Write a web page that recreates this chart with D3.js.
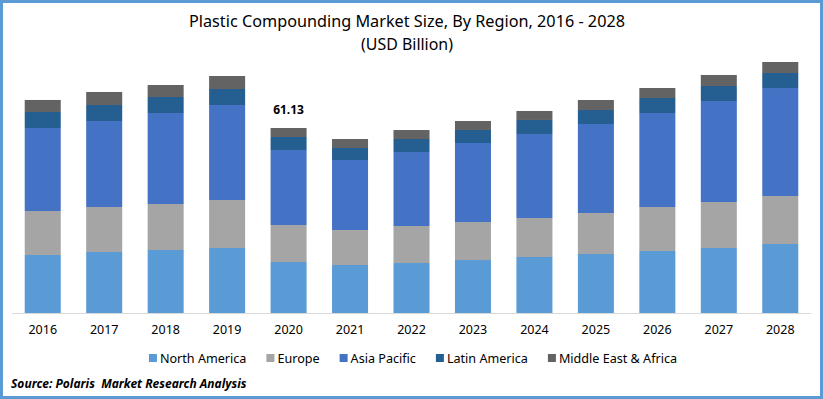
<!DOCTYPE html>
<html>
<head>
<meta charset="utf-8">
<script src="https://cdn.jsdelivr.net/npm/d3@7"></script>
<style>
  html, body { margin: 0; padding: 0; background: #fff; }
  svg { display: block; font-family: "Noto Sans", "Open Sans", sans-serif; }
</style>
</head>
<body>
<svg width="823" height="399"></svg>
<script>
// Chart data (USD Billion)
const years = ["2016", "2017", "2018", "2019", "2020", "2021", "2022", "2023", "2024", "2025", "2026", "2027", "2028"];
const regions = ["North America", "Europe", "Asia Pacific", "Latin America", "Middle East & Africa"];
const northAmerica = [19.17, 20.16, 20.82, 21.48, 16.85, 15.86, 16.52, 17.51, 18.51, 19.50, 20.49, 21.48, 22.80];
const europe       = [14.54, 14.87, 15.20, 15.86, 12.22, 11.57, 12.23, 12.56, 12.89, 13.55, 14.54, 15.20, 15.86];
const asiaPacific  = [27.43, 28.42, 30.07, 31.39, 24.79, 23.13, 24.45, 26.11, 27.76, 29.41, 31.06, 33.38, 35.69];
const latinAmerica = [5.29, 5.29, 5.29, 5.29, 4.30, 3.97, 4.30, 4.30, 4.63, 4.63, 4.96, 4.96, 4.96];
const middleEast   = [3.97, 4.30, 3.97, 4.30, 2.97, 2.97, 2.97, 2.97, 2.97, 3.30, 3.30, 3.64, 3.64];
const labelYear = "2020";
const labelText = "61.13";

const colors = ["#5B9BD5", "#A5A5A5", "#4472C4", "#255E91", "#636363"];

const rows = years.map((y, i) => ({
  year: y,
  "North America": northAmerica[i],
  "Europe": europe[i],
  "Asia Pacific": asiaPacific[i],
  "Latin America": latinAmerica[i],
  "Middle East & Africa": middleEast[i]
}));

const svg = d3.select("svg");
const width = 823, height = 399;

// Outer frame
svg.append("rect")
  .attr("x", 1.5).attr("y", 1.5)
  .attr("width", width - 3).attr("height", height - 3)
  .attr("fill", "#fff")
  .attr("stroke", "#5B9BD5")
  .attr("stroke-width", 3);

// Title
const title = svg.append("text")
  .attr("x", 407).attr("y", 27)
  .attr("text-anchor", "middle")
  .attr("font-size", 17)
  .attr("fill", "#000")
  .text("Plastic Compounding Market Size, By Region, 2016 - 2028");
fitText(title, 436);

const subtitle = svg.append("text")
  .attr("x", 407).attr("y", 50)
  .attr("text-anchor", "middle")
  .attr("font-size", 17)
  .attr("fill", "#000")
  .text("(USD Billion)");
fitText(subtitle, 92);

// Scales
const x = d3.scaleBand()
  .domain(years)
  .range([12, 811])
  .paddingInner(0.414)
  .paddingOuter(0.207);

const y = d3.scaleLinear()
  .domain([0, 80])
  .range([313, 313 - 80 * 3.026]);

const stack = d3.stack().keys(regions);
const series = stack(rows);

// Bars
svg.append("g")
  .selectAll("g")
  .data(series)
  .join("g")
    .attr("fill", (d, i) => colors[i])
  .selectAll("rect")
  .data(d => d)
  .join("rect")
    .attr("x", d => x(d.data.year))
    .attr("y", d => y(d[1]))
    .attr("width", x.bandwidth())
    .attr("height", d => y(d[0]) - y(d[1]));

// Baseline
svg.append("line")
  .attr("x1", 12).attr("x2", 811)
  .attr("y1", 313.5).attr("y2", 313.5)
  .attr("stroke", "#D9D9D9")
  .attr("stroke-width", 1);

// X axis labels
const xAxis = svg.append("g")
  .attr("transform", "translate(0,313)")
  .call(d3.axisBottom(x).tickSize(0).tickPadding(12));
xAxis.select(".domain").remove();
xAxis.selectAll("text")
  .attr("font-family", "\"Noto Sans\", sans-serif")
  .attr("font-size", 12.5)
  .attr("fill", "#000");

// Data label on 2020
const li = years.indexOf(labelYear);
const lastTop = series[series.length - 1][li][1];
svg.append("text")
  .attr("x", x(labelYear) + x.bandwidth() / 2)
  .attr("y", y(lastTop) - 14)
  .attr("text-anchor", "middle")
  .attr("font-size", 12)
  .attr("font-weight", "bold")
  .attr("fill", "#000")
  .text(labelText);

// Legend
const legend = svg.append("g").attr("transform", "translate(0,363)");
const items = legend.selectAll("g")
  .data(regions)
  .join("g");
items.append("rect")
  .attr("y", -9)
  .attr("width", 8).attr("height", 8)
  .attr("fill", (d, i) => colors[i]);
items.append("text")
  .attr("x", 11)
  .attr("font-size", 12.6)
  .attr("fill", "#000")
  .text(d => d);
let cursor = 0;
const widths = [];
items.each(function() {
  const w = this.querySelector("text").getComputedTextLength();
  widths.push(11 + w);
});
const gap = 20;
const totalW = d3.sum(widths) + gap * (widths.length - 1);
cursor = 413 - totalW / 2;
items.attr("transform", (d, i) => {
  const t = `translate(${cursor},0)`;
  cursor += widths[i] + gap;
  return t;
});

// Source
svg.append("text")
  .attr("x", 11).attr("y", 388)
  .attr("font-size", 12)
  .attr("font-weight", "bold")
  .attr("font-style", "italic")
  .attr("fill", "#000")
  .style("white-space", "pre")
  .text("Source: Polaris  Market Research Analysis");

// Squeeze text to a target width if it runs wider
function fitText(sel, target) {
  const w = sel.node().getComputedTextLength();
  if (w > target) {
    sel.attr("textLength", target).attr("lengthAdjust", "spacingAndGlyphs");
  }
}
</script>
</body>
</html>
